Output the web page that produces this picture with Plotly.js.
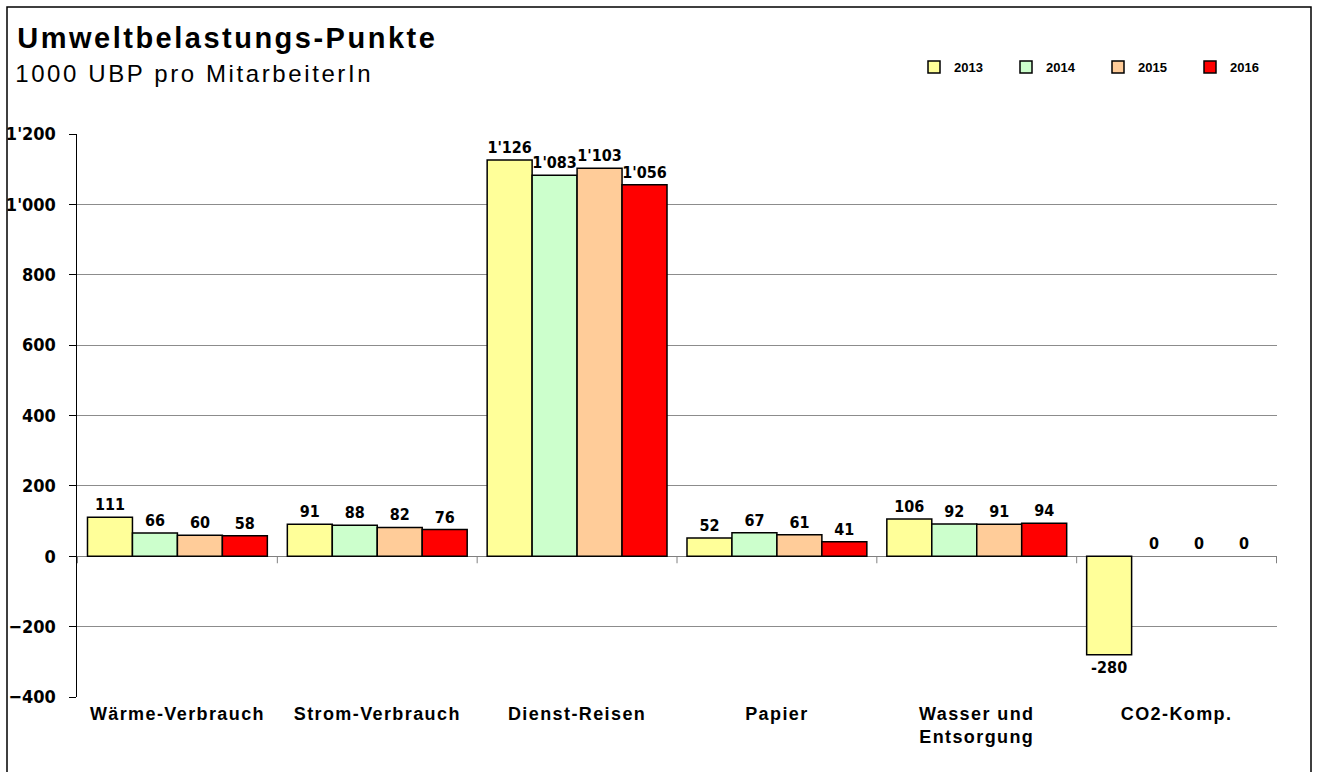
<!DOCTYPE html>
<html>
<head>
<meta charset="utf-8">
<script src="https://cdn.plot.ly/plotly-3.0.1.min.js"></script>
<style>
html,body{margin:0;padding:0;background:#fff;}
#chart{width:1317px;height:772px;}
#chart .xtick text{letter-spacing:1.4px;}
#chart g.annotation[data-index="0"] text{letter-spacing:2.5px;}
#chart g.annotation[data-index="1"] text{letter-spacing:2.6px;}
</style>
</head>
<body>
<div id="chart"></div>
<script>
const categories = ["Wärme-Verbrauch", "Strom-Verbrauch", "Dienst-Reisen", "Papier", "Wasser und<br>Entsorgung", "CO2-Komp."];
const years = ["2013", "2014", "2015", "2016"];
const v2013 = [111, 91, 1126, 52, 106, -280];
const v2014 = [66, 88, 1083, 67, 92, 0];
const v2015 = [60, 82, 1103, 61, 91, 0];
const v2016 = [58, 76, 1056, 41, 94, 0];
const yTicks = [-400, -200, 0, 200, 400, 600, 800, 1000, 1200];
const colors = ["#FFFF99", "#CCFFCC", "#FFCC99", "#FF0000"];

const narrow = "DejaVu Sans Condensed, Liberation Sans Narrow, Arial Narrow, Liberation Sans, sans-serif";
const sans = "Liberation Sans, Arial, sans-serif";

const series = [v2013, v2014, v2015, v2016];
const traces = series.map((vals, i) => ({
  type: "bar",
  name: years[i],
  x: categories,
  y: vals,
  marker: {color: colors[i], line: {color: "#000000", width: vals.map(v => v === 0 ? 0 : 1.5)}},
  texttemplate: "%{y:,d}",
  textposition: "outside",
  cliponaxis: false,
  textfont: {family: narrow, size: 16, color: "#000000", weight: "bold"},
  hoverinfo: "skip"
}));

// tick marks on the zero line between categories
const shapes = [];
for (let k = 0; k <= categories.length; k++) {
  shapes.push({
    type: "line", xref: "x", yref: "y", ysizemode: "pixel", yanchor: 0,
    x0: k - 0.5, x1: k - 0.5, y0: 0, y1: -7,
    line: {color: "#808080", width: 1}
  });
}
// outer frame
shapes.push({
  type: "rect", xref: "paper", yref: "paper", layer: "above",
  x0: (7 - 77) / 1200, x1: (1311 - 77) / 1200,
  y0: (697 - 790) / 563, y1: (697 - 7) / 563,
  line: {color: "#000000", width: 1.5}, fillcolor: "rgba(0,0,0,0)"
});

const layout = {
  width: 1317, height: 772,
  margin: {l: 77, r: 40, t: 134, b: 75, autoexpand: false},
  paper_bgcolor: "#ffffff", plot_bgcolor: "#ffffff",
  separators: ".'",
  barmode: "group",
  bargap: 0.1,
  bargroupgap: 0,
  showlegend: true,
  legend: {
    orientation: "h", x: (914 - 77) / 1200, y: (697 - 67) / 563,
    xanchor: "left", yanchor: "middle",
    entrywidth: 47, entrywidthmode: "pixels",
    itemwidth: 30,
    font: {family: sans, size: 13, color: "#000000", weight: "bold"},
    bgcolor: "rgba(0,0,0,0)", traceorder: "normal"
  },
  xaxis: {
    type: "category",
    showgrid: false, showline: false, zeroline: false,
    ticks: "", ticklabelstandoff: 4,
    tickfont: {family: sans, size: 18, color: "#000000", weight: "bold"}
  },
  yaxis: {
    range: [-400, 1200],
    tickvals: yTicks,
    tickformat: ",d",
    showgrid: true, gridcolor: "#8c8c8c", gridwidth: 1,
    zeroline: true, zerolinecolor: "#808080", zerolinewidth: 1.5,
    showline: true, linecolor: "#000000", linewidth: 1.5,
    ticks: "outside", ticklen: 7, tickcolor: "#000000", tickwidth: 1,
    ticklabelstandoff: 9,
    tickfont: {family: narrow, size: 18, color: "#000000", weight: "bold"}
  },
  shapes: shapes,
  annotations: [
    {xref: "paper", yref: "paper", x: (227 - 77) / 1200, y: (697 - 38) / 563,
     xanchor: "center", yanchor: "middle", showarrow: false,
     text: "<b>Umweltbelastungs-Punkte</b>",
     font: {family: sans, size: 29, color: "#000000"}},
    {xref: "paper", yref: "paper", x: (194 - 77) / 1200, y: (697 - 74) / 563,
     xanchor: "center", yanchor: "middle", showarrow: false,
     text: "1000 UBP pro MitarbeiterIn",
     font: {family: sans, size: 24, color: "#000000"}}
  ]
};

Plotly.newPlot("chart", traces, layout, {displayModeBar: false, staticPlot: true});
</script>
</body>
</html>
